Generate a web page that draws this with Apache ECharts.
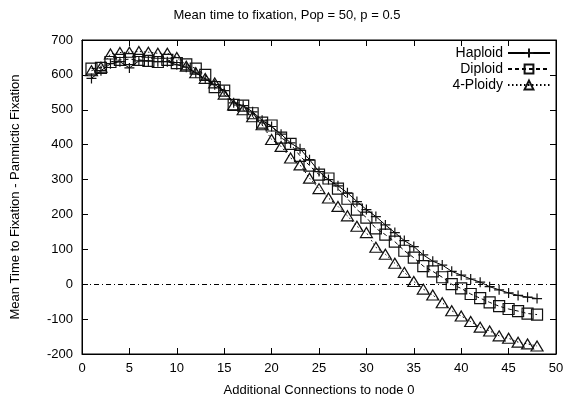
<!DOCTYPE html>
<html>
<head>
<meta charset="utf-8">
<script src="https://cdn.jsdelivr.net/npm/echarts@6/dist/echarts.min.js"></script>
<style>
html,body{margin:0;padding:0;background:#fff;}
#chart{width:574px;height:405px;}
</style>
</head>
<body>
<div id="chart"></div>
<script>
var connections = [1,2,3,4,5,6,7,8,9,10,11,12,13,14,15,16,17,18,19,20,21,22,23,24,25,26,27,28,29,30,31,32,33,34,35,36,37,38,39,40,41,42,43,44,45,46,47,48];
var haploid = [590,612,632,638,620,640,640,638,638,629,622,606,588,572,555,520,512,494,470,452,430,405,388,357,323,300,282,262,237,214,194,170,148,125,108,84,66,55,37,26,15,6,-7,-16,-25,-32,-37,-41];
var diploid = [618,620,637,643,645,643,640,637,643,634,630,618,600,565,555,514,512,490,463,455,420,402,368,340,314,303,274,245,214,191,160,142,122,96,76,52,37,20,0,-12,-28,-40,-52,-63,-71,-77,-84,-87];
var ploidy4 = [612,622,660,664,665,667,665,662,662,650,625,606,590,577,545,514,500,480,457,415,395,362,342,304,274,247,223,196,166,148,106,86,60,34,8,-14,-31,-53,-76,-91,-107,-123,-134,-148,-155,-166,-171,-177];
var seriesNames = ['Haploid','Diploid','4-Ploidy'];
var xTicks = {min:0, max:50, interval:5};
var yTicks = {min:-200, max:700, interval:100};

function pairs(vals){ return connections.map(function(c,i){ return [c, vals[i]]; }); }

var FONT = 'Liberation Sans';
var chart = echarts.init(document.getElementById('chart'), null, {renderer:'canvas'});
function axisCommon(){ return {
  axisLine:{show:true, onZero:false, lineStyle:{color:'#000', width:1}},
  axisTick:{show:true, inside:true, length:6, lineStyle:{color:'#000', width:1}},
  splitLine:{show:false}
};}
chart.setOption({
  animation:false,
  backgroundColor:'#fff',
  title:{
    text:'Mean time to fixation, Pop = 50, p = 0.5',
    left:'center', top:4,
    textStyle:{fontFamily:FONT, fontSize:13, fontWeight:'normal', color:'#000'}
  },
  legend:{
    orient:'vertical', right:18, top:41, align:'right',
    itemWidth:42, itemHeight:11, itemGap:2,
    textStyle:{fontFamily:FONT, fontSize:14, color:'#000'},
    data:seriesNames
  },
  grid:{left:82, right:18, top:40, bottom:51, show:true, borderColor:'#000', borderWidth:1},
  xAxis:[
    Object.assign({type:'value', position:'bottom', min:xTicks.min, max:xTicks.max, interval:xTicks.interval,
      name:'Additional Connections to node 0', nameLocation:'middle', nameGap:30,
      nameTextStyle:{fontFamily:FONT, fontSize:13, color:'#000'},
      axisLabel:{fontFamily:FONT, fontSize:13, color:'#000', margin:8}}, axisCommon()),
    Object.assign({type:'value', position:'top', min:xTicks.min, max:xTicks.max, interval:xTicks.interval,
      axisLabel:{show:false}}, axisCommon())
  ],
  yAxis:[
    Object.assign({type:'value', position:'left', min:yTicks.min, max:yTicks.max, interval:yTicks.interval,
      name:'Mean Time to Fixation - Panmictic Fixation', nameLocation:'middle', nameGap:60,
      nameTextStyle:{fontFamily:FONT, fontSize:13, color:'#000'},
      axisLabel:{fontFamily:FONT, fontSize:13, color:'#000', margin:9}}, axisCommon()),
    Object.assign({type:'value', position:'right', min:yTicks.min, max:yTicks.max, interval:yTicks.interval,
      axisLabel:{show:false}}, axisCommon())
  ],
  series:[
    {
      name:seriesNames[0], type:'line', data:pairs(haploid),
      symbol:'path://M0,5H10M5,0V10', symbolSize:10,
      itemStyle:{color:'rgba(0,0,0,0)', borderColor:'#111', borderWidth:1.2},
      lineStyle:{color:'#000', width:1, type:'solid'},
      markLine:{silent:true, symbol:'none', label:{show:false},
        lineStyle:{color:'#000', width:1, type:[5,3,1,3]},
        data:[{yAxis:0}]},
      z:3
    },
    {
      name:seriesNames[1], type:'line', data:pairs(diploid),
      symbol:'rect', symbolSize:11,
      itemStyle:{color:'rgba(0,0,0,0)', borderColor:'#111', borderWidth:1.2},
      lineStyle:{color:'#000', width:1, type:[4,3]},
      z:2
    },
    {
      name:seriesNames[2], type:'line', data:pairs(ploidy4),
      symbol:'triangle', symbolSize:[12,10],
      itemStyle:{color:'rgba(0,0,0,0)', borderColor:'#111', borderWidth:1.2},
      lineStyle:{color:'#000', width:1, type:[1.5,2.5]},
      z:1
    }
  ]
});
</script>
</body>
</html>
